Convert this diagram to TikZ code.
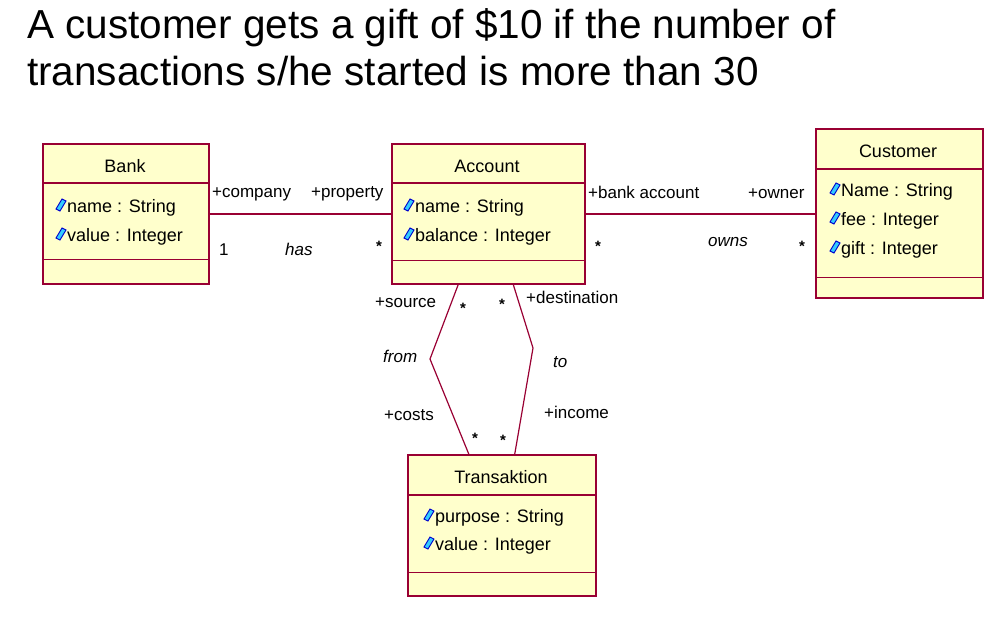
\documentclass[tikz,border=0pt]{standalone}
\usepackage{fontspec}
\setmainfont{Liberation Sans}
\usetikzlibrary{calc}

\definecolor{umlred}{RGB}{153,0,51}
\definecolor{umlfill}{RGB}{255,255,204}
\definecolor{iconcyan}{RGB}{51,204,255}
\definecolor{iconblue}{RGB}{0,0,204}

\tikzset{
  classbox/.style={draw=umlred, fill=umlfill, line width=1.5pt, rectangle,
    inner sep=0pt, anchor=north west},
  conn/.style={draw=umlred, line width=1.5pt},
  cname/.style={anchor=base, inner sep=0pt, font=\fontsize{18}{20}\selectfont},
  attr/.style={anchor=base west, inner sep=0pt, font=\fontsize{18}{20}\selectfont},
  role/.style={anchor=base west, inner sep=0pt, font=\fontsize{17}{19}\selectfont},
  assoc/.style={role, font=\fontsize{17}{19}\selectfont\itshape},
  mult/.style={anchor=center, inner sep=0pt, font=\fontsize{15}{16}\selectfont\bfseries},
  attricon/.pic={
    \filldraw[fill=iconcyan, draw=iconblue, line width=0.9pt]
      (-5,4) -- (1,-6) -- (5,-4) -- (-1,6) -- cycle;
  }
}

\begin{document}
\begin{tikzpicture}[x=1pt, y=-1pt]

\useasboundingbox (0,0) rectangle (1003,621);

% ============================
% Heading
% ============================
\node[anchor=base west, inner sep=0pt, font=\fontsize{40.5}{46}\selectfont]
  (head1) at (27,38) {A customer gets a gift of \$10 if the number of};
\node[anchor=base west, inner sep=0pt, font=\fontsize{40.5}{46}\selectfont]
  (head2) at (27,85) {transactions s/he started is more than 30};

% ============================
% Class boxes
% ============================
\node[classbox, minimum width=166pt, minimum height=140pt] (bank) at (42,143) {};
\node[classbox, minimum width=193pt, minimum height=140pt] (acct) at (391,143) {};
\node[classbox, minimum width=167pt, minimum height=169pt] (cust) at (815,128) {};
\node[classbox, minimum width=188pt, minimum height=141pt] (trans) at (407,454) {};

% compartments
\draw[conn] ([yshift=-40pt]bank.north west) -- ([yshift=-40pt]bank.north east);
\draw[conn] ([yshift=25pt]bank.south west) -- ([yshift=25pt]bank.south east);
\draw[conn] ([yshift=-40pt]acct.north west) -- ([yshift=-40pt]acct.north east);
\draw[conn] ([yshift=24pt]acct.south west) -- ([yshift=24pt]acct.south east);
\draw[conn] ([yshift=-41pt]cust.north west) -- ([yshift=-41pt]cust.north east);
\draw[conn] ([yshift=21pt]cust.south west) -- ([yshift=21pt]cust.south east);
\draw[conn] ([yshift=-41pt]trans.north west) -- ([yshift=-41pt]trans.north east);
\draw[conn] ([yshift=24pt]trans.south west) -- ([yshift=24pt]trans.south east);

% ============================
% Names and attributes
% ============================
\node[cname] (bankT) at (125,172) {Bank};
\node[cname] (acctT) at (487,172) {Account};
\node[cname] (custT) at (898,157) {Customer};
\node[cname] (transT) at (501,483) {Transaktion};

\foreach \x/\y/\txt [count=\i] in {
  67/212/{name : String}, 67/241/{value : Integer},
  415/212/{name : String}, 415/241/{balance : Integer},
  841/196/{Name : String}, 841/225/{fee : Integer}, 841/254/{gift : Integer},
  435/522/{purpose : String}, 435/550/{value : Integer}}{
  \pic at (\x-6,\y-7) {attricon};
  \node[attr] (at\i) at (\x,\y) {\txt};
}

% ============================
% Associations
% ============================
\draw[conn] (bank.east) -- (acct.west);
\draw[conn] (acct.east) -- (acct.east -| cust.west);

\coordinate (fromBend) at (430,359);
\coordinate (toBend) at (533,348);
\draw[conn, line width=1.2pt] ([xshift=-30pt]acct.south) -- (fromBend)
  -- ([xshift=-33pt]trans.north);
\draw[conn, line width=1.2pt] ([xshift=25pt]acct.south) -- (toBend)
  -- ([xshift=13pt]trans.north);

% ============================
% Labels
% ============================
\node[role] (rCompany) at (212,197) {+company};
\node[role] (rProperty) at (311,197) {+property};
\node[role] (rOne) at (219,255) {1};
\node[assoc] (aHas) at (285,255) {has};

\node[role] (rBankAcc) at (588,198) {+bank account};
\node[role] (rOwner) at (748,198) {+owner};
\node[assoc] (aOwns) at (708,246) {owns};

\node[role] (rSource) at (375,307) {+source};
\node[role] (rDest) at (526,303) {+destination};
\node[assoc] (aFrom) at (383,362) {from};
\node[assoc] (aTo) at (553,367) {to};
\node[role] (rCosts) at (384,420) {+costs};
\node[role] (rIncome) at (544,418) {+income};

% ============================
% Multiplicities
% ============================
\foreach \x/\y [count=\i] in {379/246,598/246,802/246,463/308,502/304,475/438,503/440}{
  \node[mult] (m\i) at (\x,\y) {*};
}

\end{tikzpicture}
\end{document}
